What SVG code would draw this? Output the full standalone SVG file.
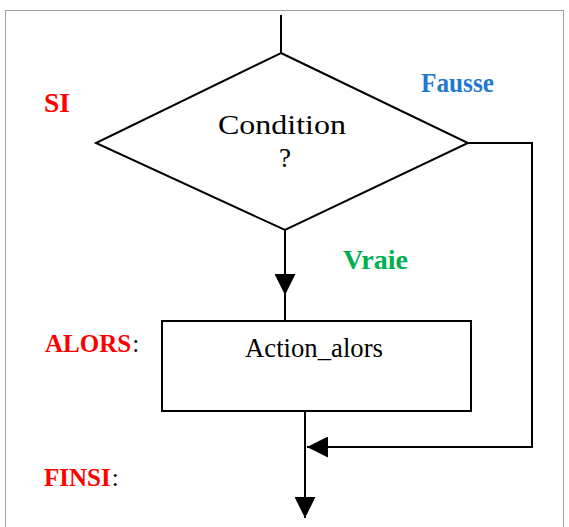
<svg xmlns="http://www.w3.org/2000/svg" width="569" height="527" viewBox="0 0 569 527">
<style>
.ln{fill:none;stroke:#000;stroke-width:2}
.shape{fill:#fff;stroke:#000;stroke-width:2}
.t{font-family:"Liberation Serif","Times New Roman",serif;font-size:27px;fill:#000}
.lb{font-family:"Liberation Serif","Times New Roman",serif;font-size:27px;font-weight:bold}
.lb2{font-family:"Liberation Serif","Times New Roman",serif;font-size:25px;font-weight:bold}
.red{fill:#ff0000}
.blk{fill:#000;font-weight:normal}
</style>
<defs>
<marker id="arr" viewBox="0 0 20 20" refX="20" refY="10" markerWidth="21" markerHeight="21" markerUnits="userSpaceOnUse" orient="auto">
<path d="M0,0 L20,10 L0,20 z" fill="#000"/>
</marker>
</defs>
<rect x="5.5" y="10.5" width="558" height="530" fill="#fff" stroke="#a0a0a0" stroke-width="1"/>
<g id="connectors">
<path class="ln" d="M281,15 L281,53"/>
<path class="ln" d="M285,230 L285,295 L285,321" marker-mid="url(#arr)"/>
<path class="ln" d="M468,143 H532 V447 H307" marker-end="url(#arr)"/>
<path class="ln" d="M305,411 V518" marker-end="url(#arr)"/>
</g>
<g id="decision">
<polygon class="shape" points="281,53 468,143 285,230 96,143"/>
<text class="t" x="282" y="134" text-anchor="middle" textLength="128" lengthAdjust="spacingAndGlyphs">Condition</text>
<text class="t" x="285" y="167" text-anchor="middle">?</text>
</g>
<g id="action">
<rect class="shape" x="162" y="321" width="309" height="90"/>
<text class="t" x="314" y="357" text-anchor="middle" textLength="138" lengthAdjust="spacingAndGlyphs">Action_alors</text>
</g>
<g id="labels">
<text class="lb red" x="44" y="112" textLength="26" lengthAdjust="spacingAndGlyphs">SI</text>
<text class="lb" x="421" y="92" fill="#1f78d2" textLength="73" lengthAdjust="spacingAndGlyphs">Fausse</text>
<text class="lb" x="343" y="269" fill="#00b050" textLength="65" lengthAdjust="spacingAndGlyphs">Vraie</text>
<text class="lb2 red" x="45" y="352">ALORS<tspan class="blk" dx="1">:</tspan></text>
<text class="lb2 red" x="44" y="486">FINSI<tspan class="blk" dx="1">:</tspan></text>
</g>
</svg>
